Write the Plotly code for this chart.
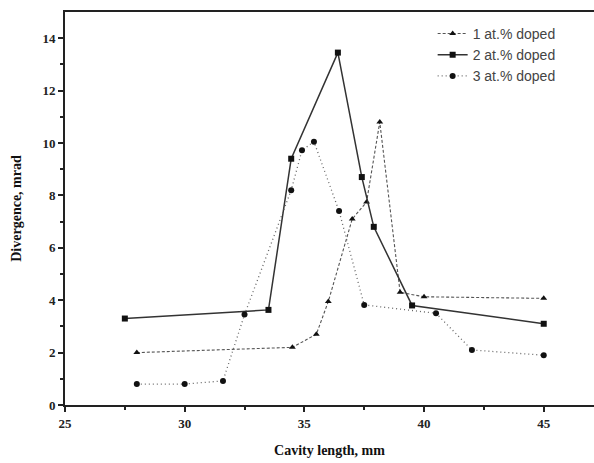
import plotly.graph_objects as go

s1_x = [28, 34.5, 35.5, 36, 37, 37.6, 38.15, 39, 40, 45]
s1_y = [2.0, 2.2, 2.7, 3.95, 7.1, 7.75, 10.8, 4.3, 4.13, 4.07]
s2_x = [27.5, 33.5, 34.45, 36.4, 37.4, 37.9, 39.5, 45]
s2_y = [3.3, 3.63, 9.4, 13.45, 8.7, 6.8, 3.8, 3.1]
s3_x = [28, 30, 31.6, 32.5, 34.45, 34.9, 35.4, 36.45, 37.5, 40.5, 42, 45]
s3_y = [0.8, 0.8, 0.92, 3.45, 8.2, 9.72, 10.05, 7.4, 3.82, 3.5, 2.1, 1.9]
names = ["1 at.% doped", "2 at.% doped", "3 at.% doped"]

fig = go.Figure()
fig.add_trace(go.Scatter(x=s1_x, y=s1_y, name=names[0], mode="lines+markers",
                         line=dict(color="#555", width=1.1, dash="3px,2px"),
                         marker=dict(symbol="triangle-up", size=6, color="#111")))
fig.add_trace(go.Scatter(x=s2_x, y=s2_y, name=names[1], mode="lines+markers",
                         line=dict(color="#333", width=1.5),
                         marker=dict(symbol="square", size=6, color="#111")))
fig.add_trace(go.Scatter(x=s3_x, y=s3_y, name=names[2], mode="lines+markers",
                         line=dict(color="#666", width=1.3, dash="1px,3px"),
                         marker=dict(symbol="circle", size=6, color="#111")))

tickfont = dict(family="Liberation Serif", size=13, color="#222", weight="bold")
fig.update_layout(
    width=594, height=463,
    margin=dict(l=65, r=0, t=12, b=58),
    paper_bgcolor="white", plot_bgcolor="white",
    showlegend=True,
    legend=dict(x=0.695, y=0.985, xanchor="left", yanchor="top",
                bgcolor="rgba(0,0,0,0)", font=dict(family="Liberation Sans", size=14, color="#444"),
                tracegroupgap=0),
)
fig.update_xaxes(range=[25, 47.1], tickvals=[25, 30, 35, 40, 45], ticks="outside", ticklen=5,
                 tickwidth=1.5, tickcolor="#222", showline=True, linewidth=2, linecolor="#222",
                 mirror=True, showgrid=False, zeroline=False, tickfont=tickfont,
                 minor=dict(tickvals=[27.5, 32.5, 37.5, 42.5], ticks="outside", ticklen=3, tickcolor="#222"),
                 title=dict(text="<b>Cavity length, mm</b>", font=dict(family="Liberation Serif", size=14, color="#111"),
                            standoff=16))
fig.update_yaxes(range=[0, 15], tickvals=[0, 2, 4, 6, 8, 10, 12, 14], ticks="outside", ticklen=5,
                 tickwidth=1.5, tickcolor="#222", showline=True, linewidth=2, linecolor="#222",
                 mirror=False, showgrid=False, zeroline=False, tickfont=tickfont,
                 minor=dict(tickvals=[1, 3, 5, 7, 9, 11, 13], ticks="outside", ticklen=3, tickcolor="#222"),
                 title=dict(text="<b>Divergence, mrad</b>", font=dict(family="Liberation Serif", size=14, color="#111"),
                            standoff=18))
fig.write_html("out.html")
